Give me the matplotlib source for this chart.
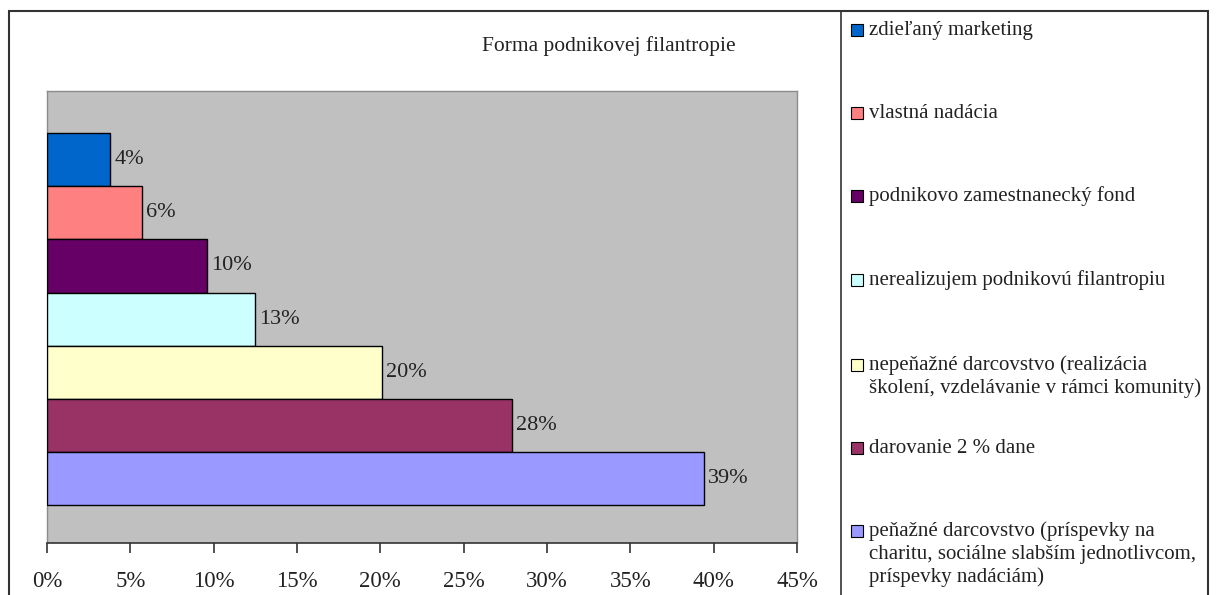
import matplotlib
matplotlib.use("Agg")
import matplotlib.pyplot as plt
from matplotlib.patches import Rectangle

plt.rcParams['font.family'] = ['Liberation Serif', 'DejaVu Serif']

# ---- data (top to bottom) ----
categories = [
    "zdieľaný marketing",
    "vlastná nadácia",
    "podnikovo zamestnanecký fond",
    "nerealizujem podnikovú filantropiu",
    "nepeňažné darcovstvo (realizácia\nškolení, vzdelávanie v rámci komunity)",
    "darovanie 2 % dane",
    "peňažné darcovstvo (príspevky na\ncharitu, sociálne slabším jednotlivcom,\npríspevky nadáciám)",
]
values = [3.8, 5.7, 9.6, 12.5, 20.1, 27.9, 39.4]
value_labels = ["4%", "6%", "10%", "13%", "20%", "28%", "39%"]
colors = ["#0066CC", "#FF8080", "#660066", "#CCFFFF", "#FFFFCC", "#993366", "#9999FF"]
xticks = [0, 5, 10, 15, 20, 25, 30, 35, 40, 45]
xtick_labels = [f"{t}%" for t in xticks]
title = "Forma podnikovej filantropie"

W, H = 1219, 595
fig = plt.figure(figsize=(W / 100, H / 100), dpi=100)
fig.patch.set_facecolor("white")

def fx(px):
    return px / W

def fy(py):
    return 1 - py / H

# plot area
ax = fig.add_axes([fx(47), fy(543), fx(797) - fx(47), fy(91) - fy(543)])
ax.set_facecolor("#C0C0C0")
n = len(values)
ypos = list(range(n))
ax.barh(ypos, values, height=1.0, color=colors, edgecolor="black", linewidth=1.0, zorder=3)
ax.set_ylim(n - 1 + 0.5 + 0.71, -0.5 - 0.79)
ax.set_xlim(0, 45)
for y, v, lab in zip(ypos, values, value_labels):
    ax.annotate(lab, (v, y), xytext=(3, 0), textcoords="offset points",
                ha="left", va="center", fontsize=16, color="#222222", zorder=4)

ax.set_yticks([])
ax.set_xticks(xticks)
ax.set_xticklabels(xtick_labels, fontsize=16.5, color="#222222")
ax.tick_params(axis="x", direction="out", length=7, width=1.2, color="#333333", pad=13)
for s in ["top", "right", "left"]:
    ax.spines[s].set_color("#8C8C8C")
    ax.spines[s].set_linewidth(1.0)
ax.spines["bottom"].set_color("#333333")
ax.spines["bottom"].set_linewidth(1.2)

# title
fig.text(fx(609), fy(46), title, ha="center", va="center", fontsize=15.5, color="#222222")

# outer border and legend divider
fig.patches.append(Rectangle((fx(9), fy(620)), fx(1208) - fx(9), fy(11) - fy(620),
                             transform=fig.transFigure, fill=False,
                             edgecolor="#333333", linewidth=1.5, clip_on=False))
fig.add_artist(plt.Line2D([fx(841), fx(841)], [fy(11), fy(620)], transform=fig.transFigure,
                          color="#333333", linewidth=1.2))

# legend
legend_centers = [30, 113, 196, 280, 365, 448, 531]
line_step = 23
for lab, col, cy in zip(categories, colors, legend_centers):
    fig.patches.append(Rectangle((fx(851), fy(cy + 6)), fx(12), 12 / H,
                                 transform=fig.transFigure, facecolor=col,
                                 edgecolor="black", linewidth=0.8))
    for k, line in enumerate(lab.split("\n")):
        fig.text(fx(869), fy(cy + 5 + k * line_step), line, ha="left", va="baseline",
                 fontsize=15, color="#222222")

fig.savefig("out.png", dpi=100)
